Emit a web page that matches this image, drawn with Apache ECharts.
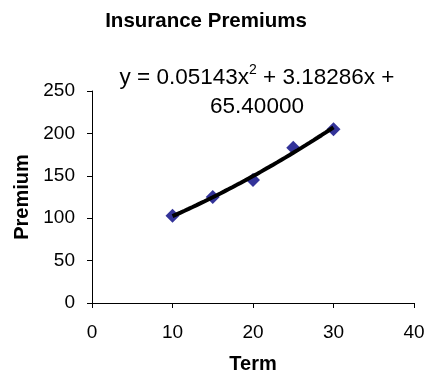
<!DOCTYPE html>
<html>
<head>
<meta charset="utf-8">
<script src="https://cdn.jsdelivr.net/npm/echarts@6/dist/echarts.min.js"></script>
<style>
html,body{margin:0;padding:0;background:#fff;}
#c{width:426px;height:377px;}
</style>
</head>
<body>
<div id="c"></div>
<script>
// Data
const terms = [10, 15, 20, 25, 30];
const premiums = [103, 125, 145, 183, 205];
const xTicks = [0, 10, 20, 30, 40];
const yTicks = [0, 50, 100, 150, 200, 250];
const titleText = 'Insurance Premiums';
const xName = 'Term';
const yName = 'Premium';
const eqLine1a = 'y = 0.05143x';
const eqSup = '2';
const eqLine1b = ' + 3.18286x +';
const eqLine2 = '65.40000';

// Quadratic least-squares trendline from the data (as in the spreadsheet trendline)
function polyFit2(xs, ys) {
  const n = xs.length;
  let s = [0,0,0,0,0], t = [0,0,0];
  for (let i = 0; i < n; i++) {
    let p = 1;
    for (let k = 0; k < 5; k++) { s[k] += p; if (k < 3) t[k] += p * ys[i]; p *= xs[i]; }
  }
  const A = [[s[0],s[1],s[2],t[0]],[s[1],s[2],s[3],t[1]],[s[2],s[3],s[4],t[2]]];
  for (let i = 0; i < 3; i++) {
    for (let j = i+1; j < 3; j++) {
      const f = A[j][i] / A[i][i];
      for (let k = i; k < 4; k++) A[j][k] -= f * A[i][k];
    }
  }
  const c = [0,0,0];
  for (let i = 2; i >= 0; i--) {
    let v = A[i][3];
    for (let k = i+1; k < 3; k++) v -= A[i][k] * c[k];
    c[i] = v / A[i][i];
  }
  return c; // c0 + c1 x + c2 x^2
}
const coef = polyFit2(terms, premiums);
const trend = [];
const x0 = terms[0], x1 = terms[terms.length - 1];
for (let i = 0; i <= 40; i++) {
  const x = x0 + (x1 - x0) * i / 40;
  trend.push([x, coef[0] + coef[1] * x + coef[2] * x * x]);
}

const FONT = 'Liberation Sans, Arial, sans-serif';
const chart = echarts.init(document.getElementById('c'), null, {renderer: 'canvas'});
chart.setOption({
  animation: false,
  backgroundColor: '#fff',
  grid: {left: 92, right: 12, top: 91, bottom: 74, containLabel: false, outerBoundsMode: 'none'},
  xAxis: {
    type: 'value',
    min: xTicks[0], max: xTicks[xTicks.length - 1], interval: xTicks[1] - xTicks[0],
    name: xName, nameLocation: 'middle', nameGap: 51,
    nameTextStyle: {fontFamily: FONT, fontSize: 20, fontWeight: 'bold', color: '#000'},
    axisLine: {show: true, onZero: false, lineStyle: {color: '#000', width: 1}},
    axisTick: {show: true, inside: false, length: 5, lineStyle: {color: '#000'}},
    axisLabel: {fontFamily: FONT, fontSize: 19, color: '#000', margin: 20},
    splitLine: {show: false}
  },
  yAxis: {
    type: 'value',
    min: yTicks[0], max: yTicks[yTicks.length - 1], interval: yTicks[1] - yTicks[0],
    name: yName, nameLocation: 'middle', nameGap: 60, nameRotate: 90,
    nameTextStyle: {fontFamily: FONT, fontSize: 20, fontWeight: 'bold', color: '#000'},
    axisLine: {show: true, onZero: false, lineStyle: {color: '#000', width: 1}},
    axisTick: {show: true, inside: false, length: 5, lineStyle: {color: '#000'}},
    axisLabel: {fontFamily: FONT, fontSize: 19, color: '#000', margin: 17},
    splitLine: {show: false}
  },
  series: [
    {
      type: 'scatter',
      data: terms.map((x, i) => [x, premiums[i]]),
      symbol: 'diamond',
      symbolSize: 14,
      itemStyle: {color: '#000080'},
      z: 2
    },
    {
      type: 'line',
      data: trend,
      showSymbol: false,
      smooth: false,
      lineStyle: {color: '#000', width: 4},
      z: 3
    }
  ],
  graphic: [
    {
      type: 'text',
      x: 206, y: 21,
      style: {
        text: titleText,
        align: 'center', verticalAlign: 'middle',
        font: 'bold 20.5px ' + FONT,
        fill: '#000'
      }
    },
    {
      type: 'text',
      x: 257, y: 63,
      style: {
        text: '{n|' + eqLine1a + '}{s|' + eqSup + '}{n|' + eqLine1b + '}\n{n|' + eqLine2 + '}',
        align: 'center', verticalAlign: 'top',
        fontFamily: FONT,
        rich: {
          n: {fontFamily: FONT, fontSize: 22.5, lineHeight: 29, fill: '#000', color: '#000'},
          s: {fontFamily: FONT, fontSize: 14, lineHeight: 29, fill: '#000', color: '#000', verticalAlign: 'top'}
        }
      }
    }
  ]
});
</script>
</body>
</html>
